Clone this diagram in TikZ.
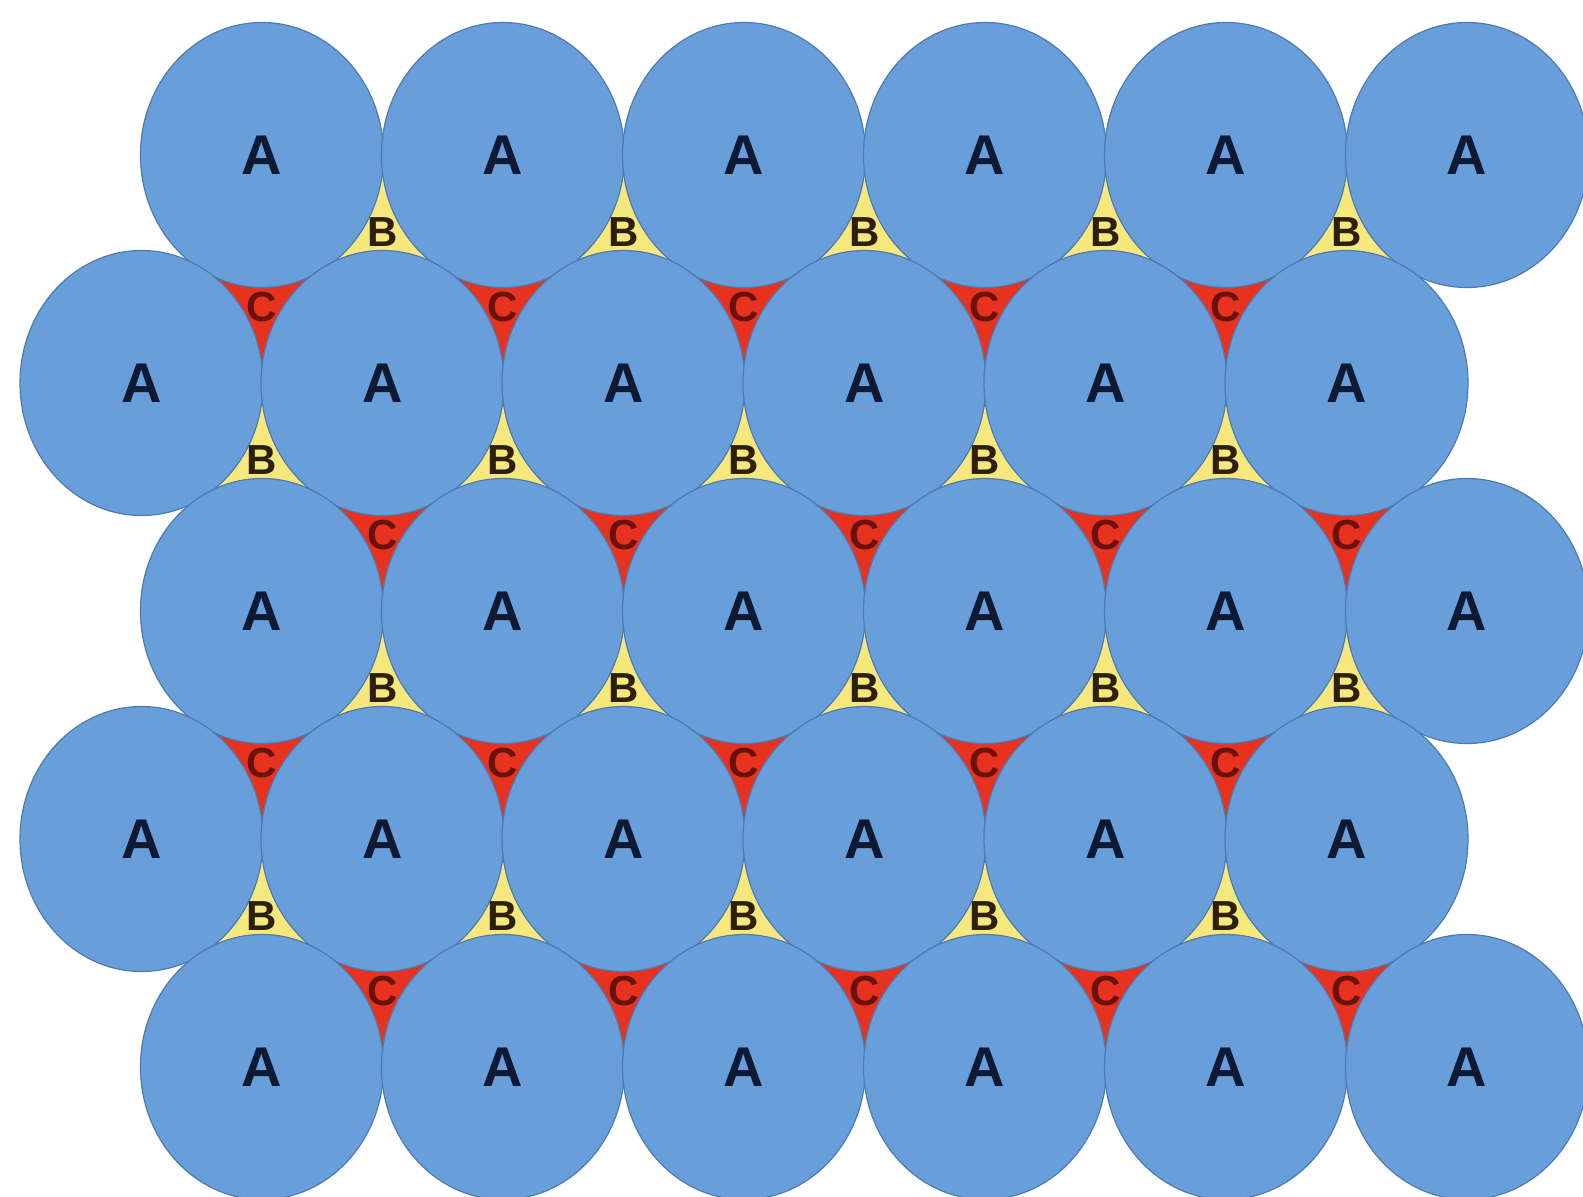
\documentclass[tikz,border=0pt]{standalone}
\usepackage{fontspec}
\setmainfont{Liberation Sans}
\usepackage{tikz}
\usetikzlibrary{shapes.geometric, backgrounds, calc}
\definecolor{atomblue}{RGB}{104,159,219}
\definecolor{atomedge}{RGB}{78,122,178}
\definecolor{holeyellow}{RGB}{247,232,125}
\definecolor{holered}{RGB}{230,50,30}
\definecolor{textnavy}{RGB}{14,26,52}
\definecolor{textbrown}{RGB}{45,32,10}
\definecolor{textred}{RGB}{105,18,12}
\tikzset{
  atom/.style={
    ellipse,
    draw=atomedge,
    line width=1.2pt,
    fill=atomblue,
    inner sep=0pt,
    minimum width=243pt,
    minimum height=265pt,
    text=textnavy,
    font=\fontsize{56}{60}\selectfont\bfseries
  },
  bsite/.style={inner sep=0pt, text=textbrown, font=\fontsize{42}{46}\selectfont\bfseries},
  csite/.style={inner sep=0pt, text=textred, font=\fontsize{42}{46}\selectfont\bfseries},
  bhole/.style={fill=holeyellow},
  chole/.style={fill=holered}
}

\begin{document}
\begin{tikzpicture}[x=1pt, y=-1pt]
\useasboundingbox (0,0) rectangle (1583,1197);
\begin{scope}[on background layer]
\fill[white] (0,0) rectangle (1583,1197);
\end{scope}

% A layer, five rows
\foreach \r in {1,...,5} {
  \pgfmathsetmacro{\xo}{isodd(\r) ? 262 : 141.5}
  \foreach \c in {0,...,5}
    \node[atom] (a-\r-\c) at ({\xo+241*\c}, {155+228*(\r-1)}) {A};
}

% B and C holes between rows
\foreach \r in {1,...,4} {
  \pgfmathsetmacro{\yu}{155+228*(\r-1)}
  \pgfmathsetmacro{\xb}{isodd(\r) ? 382.5 : 262}
  \pgfmathsetmacro{\xc}{isodd(\r) ? 262 : 382.5}
  \foreach \c in {0,...,4} {
    \node[bsite] (b-\r-\c) at ({\xb+241*\c}, {\yu+77}) {B};
    \node[csite] (c-\r-\c) at ({\xc+241*\c}, {\yu+152}) {C};
    \begin{scope}[on background layer]
    \fill[bhole] ($(b-\r-\c)+(0,-77)$) -- ($(b-\r-\c)+(-60.25,37)$)
      -- ($(b-\r-\c)+(60.25,37)$) -- cycle;
    \fill[chole] ($(c-\r-\c)+(0,76)$) -- ($(c-\r-\c)+(-60.25,-38)$)
      -- ($(c-\r-\c)+(60.25,-38)$) -- cycle;
    \end{scope}
  }
}
\end{tikzpicture}
\end{document}
